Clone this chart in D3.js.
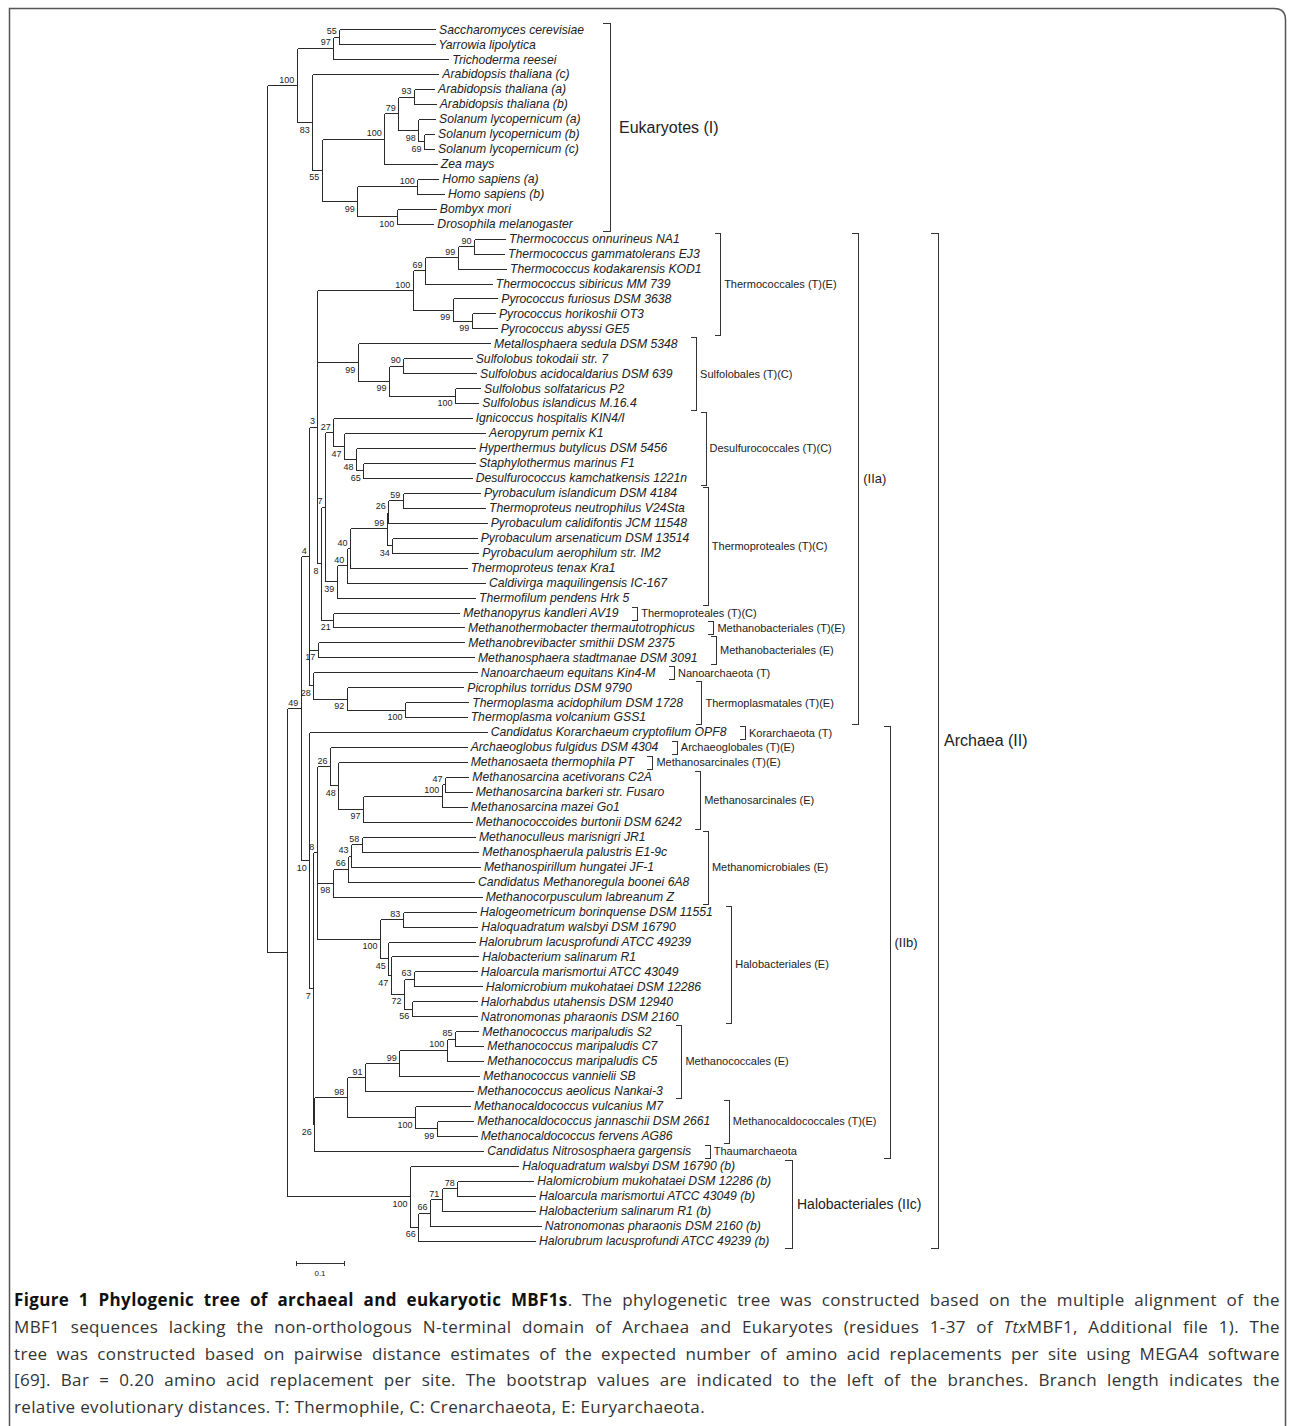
<!DOCTYPE html>
<html>
<head>
<meta charset="utf-8">
<script src="https://cdn.jsdelivr.net/npm/d3@7"></script>
<style>
  body { margin: 0; background: #fff; }
  svg text { font-family: "Liberation Sans", Arial, sans-serif; fill: #222; }
  svg .caption text { font-family: "Open Sans", sans-serif; fill: #333; }
</style>
</head>
<body>
<div id="chart"></div>
<script>
// Tree in Newick form: branch lengths in substitutions per site, internal labels = bootstrap
const treeNewick = [
  "(",
  // Eukaryotes
  "((('Saccharomyces cerevisiae':0.1994,'Yarrowia lipolytica':0.1983)55:0.0125,'Trichoderma reesei':0.2396)97:0.0763,",
  "('Arabidopsis thaliana (c)':0.2625,(((('Arabidopsis thaliana (a)':0.0417,'Arabidopsis thaliana (b)':0.0452)93:0.0327,",
  "('Solanum lycopernicum (a)':0.0348,('Solanum lycopernicum (b)':0.0208,'Solanum lycopernicum (c)':0.0208)69:0.0119)98:0.0417)79:0.0292,",
  "'Zea mays':0.1092)100:0.1304,(('Homo sapiens (a)':0.0438,'Homo sapiens (b)':0.0556)100:0.125,",
  "('Bombyx mori':0.0813,'Drosophila melanogaster':0.0763)100:0.0821)99:0.0742)55:0.0196)83:0.0325)100:0.0619,",
  // Archaea
  "(((",
  // node 4 -> node 3
  "(",
  "(((('Thermococcus onnurineus NA1':0.0646,'Thermococcus gammatolerans EJ3':0.0625)90:0.034,'Thermococcus kodakarensis KOD1':0.1006)99:0.0681,",
  "'Thermococcus sibiricus MM 739':0.139)69:0.0256,('Pyrococcus furiosus DSM 3638':0.0929,('Pyrococcus horikoshii OT3':0.0485,'Pyrococcus abyssi GE5':0.0521)99:0.0396)99:0.0833)100:0.1983,",
  "('Metallosphaera sedula DSM 5348':0.2756,(('Sulfolobus tokodaii str. 7':0.1425,'Sulfolobus acidocaldarius DSM 639':0.1515)90:0.0298,",
  "('Sulfolobus solfataricus P2':0.0521,'Sulfolobus islandicus M.16.4':0.0485)100:0.1375)99:0.0652)99:0.0838,",
  "((('Ignicoccus hospitalis KIN4/I':0.2883,('Aeropyrum pernix K1':0.2938,('Hyperthermus butylicus DSM 5456':0.2479,",
  "('Staphylothermus marinus F1':0.2327,'Desulfurococcus kamchatkensis 1221n':0.2258)65:0.0152)48:0.025)47:0.0223)27:0.0173,",
  "(((((('Pyrobaculum islandicum DSM 4184':0.161,'Thermoproteus neutrophilus V24Sta':0.1715)59:0.03,'Pyrobaculum calidifontis JCM 11548':0.205)26:0.0033,",
  "('Pyrobaculum arsenaticum DSM 13514':0.1758,'Pyrobaculum aerophilum str. IM2':0.1792)34:0.0117)99:0.0765,'Thermoproteus tenax Kra1':0.2431)40:0.0069,",
  "'Caldivirga maquilingensis IC-167':0.2881)40:0.0208,'Thermofilum pendens Hrk 5':0.2881)39:0.0244)7:0.0083,",
  "('Methanopyrus kandleri AV19':0.2625,'Methanothermobacter thermautotrophicus':0.2723)21:0.0256)8:0.0073",
  ")3:0.0171,",
  "('Methanobrevibacter smithii DSM 2375':0.3054,'Methanosphaera stadtmanae DSM 3091':0.3256)17:0.0175,",
  "('Nanoarchaeum equitans Kin4-M':0.3404,('Picrophilus torridus DSM 9790':0.2429,('Thermoplasma acidophilum DSM 1728':0.1319,'Thermoplasma volcanium GSS1':0.1285)100:0.1215)92:0.0696)28:0.0083",
  ")4:0.0179,",
  // node 10
  "('Candidatus Korarchaeum cryptofilum OPF8':0.3696,(",
  "(('Archaeoglobus fulgidus DSM 4304':0.2848,('Methanosaeta thermophila PT':0.2675,((('Methanosarcina acetivorans C2A':0.0485,'Methanosarcina barkeri str. Fusaro':0.0556)47:0.0069,",
  "'Methanosarcina mazei Go1':0.0521)100:0.164,'Methanococcoides burtonii DSM 6242':0.2265)97:0.0515)48:0.0173)26:0.0277,",
  "(((('Methanoculleus marisnigri JR1':0.236,'Methanosphaerula palustris E1-9c':0.2429)58:0.0223,'Methanospirillum hungatei JF-1':0.2688)43:0.0056,",
  "'Candidatus Methanoregula boonei 6A8':0.2619)66:0.0325,'Methanocorpusculum labreanum Z':0.3104)98:0.0333,",
  "(('Halogeometricum borinquense DSM 11551':0.1527,'Haloquadratum walsbyi DSM 16790':0.1554)83:0.0473,('Halorubrum lacusprofundi ATCC 49239':0.1806,",
  "('Halobacterium salinarum R1':0.1825,(('Haloarcula marismortui ATCC 43049':0.1306,'Halomicrobium mukohataei DSM 12286':0.141)63:0.0208,",
  "('Halorhabdus utahensis DSM 12940':0.1354,'Natronomonas pharaonis DSM 2160':0.1354)56:0.016)72:0.0277)47:0.005)45:0.0173)100:0.1319)8:0.0071,",
  "(((((('Methanococcus maripaludis S2':0.0485,'Methanococcus maripaludis C7':0.059)85:0.0173,'Methanococcus maripaludis C5':0.0763)100:0.0988,",
  "'Methanococcus vannielii SB':0.1667)99:0.0715,'Methanococcus aeolicus Nankai-3':0.2256)91:0.0381,('Methanocaldococcus vulcanius M7':0.1146,",
  "('Methanocaldococcus jannaschii DSM 2661':0.0763,'Methanocaldococcus fervens AG86':0.0833)99:0.0452)100:0.1423)98:0.0675,",
  "'Candidatus Nitrososphaera gargensis':0.3521)26:0.0021",
  ")7:0.0083)10:0.0179",
  ")49:0.0279,",
  // Halobacteriales IIc
  "('Haloquadratum walsbyi DSM 16790 (b)':0.2256,(((('Halomicrobium mukohataei DSM 12286 (b)':0.1583,'Haloarcula marismortui ATCC 43049 (b)':0.1619)78:0.0325,",
  "'Halobacterium salinarum R1 (b)':0.1944)71:0.0244,'Natronomonas pharaonis DSM 2160 (b)':0.2306)66:0.0244,'Halorubrum lacusprofundi ATCC 49239 (b)':0.2431)66:0.0173)100:0.2556",
  "):0.0423",
  ");"
].join("");

// order-level brackets: label, first leaf, last leaf
const orderGroups = [
  ["Thermococcales (T)(E)", "Thermococcus onnurineus NA1", "Pyrococcus abyssi GE5"],
  ["Sulfolobales (T)(C)", "Metallosphaera sedula DSM 5348", "Sulfolobus islandicus M.16.4"],
  ["Desulfurococcales (T)(C)", "Ignicoccus hospitalis KIN4/I", "Desulfurococcus kamchatkensis 1221n"],
  ["Thermoproteales (T)(C)", "Pyrobaculum islandicum DSM 4184", "Thermofilum pendens Hrk 5"],
  ["Thermoproteales (T)(C)", "Methanopyrus kandleri AV19", "Methanopyrus kandleri AV19"],
  ["Methanobacteriales (T)(E)", "Methanothermobacter thermautotrophicus", "Methanothermobacter thermautotrophicus"],
  ["Methanobacteriales (E)", "Methanobrevibacter smithii DSM 2375", "Methanosphaera stadtmanae DSM 3091"],
  ["Nanoarchaeota (T)", "Nanoarchaeum equitans Kin4-M", "Nanoarchaeum equitans Kin4-M"],
  ["Thermoplasmatales (T)(E)", "Picrophilus torridus DSM 9790", "Thermoplasma volcanium GSS1"],
  ["Korarchaeota (T)", "Candidatus Korarchaeum cryptofilum OPF8", "Candidatus Korarchaeum cryptofilum OPF8"],
  ["Archaeoglobales (T)(E)", "Archaeoglobus fulgidus DSM 4304", "Archaeoglobus fulgidus DSM 4304"],
  ["Methanosarcinales (T)(E)", "Methanosaeta thermophila PT", "Methanosaeta thermophila PT"],
  ["Methanosarcinales (E)", "Methanosarcina acetivorans C2A", "Methanococcoides burtonii DSM 6242"],
  ["Methanomicrobiales (E)", "Methanoculleus marisnigri JR1", "Methanocorpusculum labreanum Z"],
  ["Halobacteriales (E)", "Halogeometricum borinquense DSM 11551", "Natronomonas pharaonis DSM 2160"],
  ["Methanococcales (E)", "Methanococcus maripaludis S2", "Methanococcus aeolicus Nankai-3"],
  ["Methanocaldococcales (T)(E)", "Methanocaldococcus vulcanius M7", "Methanocaldococcus fervens AG86"],
  ["Thaumarchaeota", "Candidatus Nitrososphaera gargensis", "Candidatus Nitrososphaera gargensis"]
];
const majorGroups = [
  ["Eukaryotes (I)", "Saccharomyces cerevisiae", "Drosophila melanogaster"],
  ["Halobacteriales (IIc)", "Haloquadratum walsbyi DSM 16790 (b)", "Halorubrum lacusprofundi ATCC 49239 (b)"]
];
const subGroups = [
  ["(IIa)", "Thermococcus onnurineus NA1", "Thermoplasma volcanium GSS1"],
  ["(IIb)", "Candidatus Korarchaeum cryptofilum OPF8", "Candidatus Nitrososphaera gargensis"]
];
const domainGroups = [
  ["Archaea (II)", "Thermococcus onnurineus NA1", "Halorubrum lacusprofundi ATCC 49239 (b)"]
];
const scaleBarValue = 0.1;

const captionLines = [
  [["Figure 1 Phylogenic tree of archaeal and eukaryotic MBF1s", "b"], [". The phylogenetic tree was constructed based on the multiple alignment of the", ""]],
  [["MBF1 sequences lacking the non-orthologous N-terminal domain of Archaea and Eukaryotes (residues 1-37 of ", ""], ["Ttx", "i"], ["MBF1, Additional file 1). The", ""]],
  [["tree was constructed based on pairwise distance estimates of the expected number of amino acid replacements per site using MEGA4 software", ""]],
  [["[69]. Bar = 0.20 amino acid replacement per site. The bootstrap values are indicated to the left of the branches. Branch length indicates the", ""]],
  [["relative evolutionary distances. T: Thermophile, C: Crenarchaeota, E: Euryarchaeota.", ""]]
];

// layout
const W = 1293, H = 1426;
const majorGap = { "Eukaryotes (I)": 26, "Halobacteriales (IIc)": 21 };
const majorPad = { "Eukaryotes (I)": 9, "Halobacteriales (IIc)": 5 };
const majorSize = { "Eukaryotes (I)": 16, "Halobacteriales (IIc)": 14 };

function parseNewick(s) {
  let i = 0;
  const ws = () => { while (i < s.length && /\s/.test(s[i])) i++; };
  function label() {
    ws();
    if (s[i] === "'") {
      const j = s.indexOf("'", i + 1);
      const t = s.slice(i + 1, j);
      i = j + 1;
      return t;
    }
    let t = "";
    while (i < s.length && !",():;".includes(s[i])) t += s[i++];
    return t.trim();
  }
  function node() {
    ws();
    const n = {};
    if (s[i] === "(") {
      i++;
      n.children = [node()];
      ws();
      while (s[i] === ",") { i++; n.children.push(node()); ws(); }
      i++; // closing paren
    }
    n.name = label();
    ws();
    if (s[i] === ":") {
      i++;
      let t = "";
      while (i < s.length && !",();".includes(s[i])) t += s[i++];
      n.length = +t;
    }
    return n;
  }
  return node();
}

const root = d3.hierarchy(parseNewick(treeNewick));
root.eachBefore(d => { d.dist = d.parent ? d.parent.dist + (d.data.length || 0) : 0; });
const leaves = root.leaves();
const leafIndex = new Map(leaves.map((l, i) => [l.data.name, i]));

const x = d3.scaleLinear().domain([0, scaleBarValue]).range([267, 315]);
const y = d3.scaleLinear().domain([0, leaves.length - 1]).range([29.3, 1240.6]);

leaves.forEach((l, i) => { l.y = y(i); });
root.eachAfter(d => {
  if (d.children) d.y = (d.children[0].y + d.children[d.children.length - 1].y) / 2;
});

const svg = d3.select("#chart").append("svg")
  .attr("width", W)
  .attr("height", H);

const px = v => Math.round(v) + 0.5;

// frame
svg.append("path")
  .attr("d", `M9.5,${H + 2}V8.5H1274Q1285.5,8.5 1285.5,20V${H + 2}`)
  .attr("fill", "none")
  .attr("stroke", "#555")
  .attr("stroke-width", 1.5);

const tree = svg.append("g");

// horizontal branches
tree.selectAll("path.branch")
  .data(root.descendants().filter(d => d.parent))
  .join("path")
  .attr("class", "branch")
  .attr("d", d => `M${px(x(d.parent.dist))},${px(d.y)}H${px(x(d.dist))}`)
  .attr("fill", "none")
  .attr("stroke", "#2a2a2a")
  .attr("stroke-width", 1)
  .attr("shape-rendering", "crispEdges");

// vertical connectors
tree.selectAll("path.vert")
  .data(root.descendants().filter(d => d.children))
  .join("path")
  .attr("class", "vert")
  .attr("d", d => `M${px(x(d.dist))},${px(d.children[0].y)}V${px(d.children[d.children.length - 1].y)}`)
  .attr("fill", "none")
  .attr("stroke", "#2a2a2a")
  .attr("stroke-width", 1)
  .attr("shape-rendering", "crispEdges");

// leaf labels
const leafEnd = new Map();
tree.selectAll("text.leaf")
  .data(leaves)
  .join("text")
  .attr("class", "leaf")
  .attr("x", d => x(d.dist) + 4)
  .attr("y", d => d.y + 4.3)
  .attr("font-size", 12.2)
  .attr("font-style", "italic")
  .text(d => d.data.name)
  .each(function(d) { leafEnd.set(d.data.name, x(d.dist) + 4 + this.getComputedTextLength()); });

// bootstrap values
tree.selectAll("text.boot")
  .data(root.descendants().filter(d => d.children && d.data.name))
  .join("text")
  .attr("class", "boot")
  .attr("x", d => x(d.dist) - 2.5)
  .attr("y", d => d.parent.children[0] === d ? d.y - 2.5 : d.y + 10.5)
  .attr("text-anchor", "end")
  .attr("font-size", 9)
  .text(d => d.data.name);

// brackets
const ann = svg.append("g");
function bracket(bx, y0, y1, tick) {
  ann.append("path")
    .attr("d", `M${px(bx - tick)},${px(y0)}H${px(bx)}V${px(y1)}H${px(bx - tick)}`)
    .attr("fill", "none")
    .attr("stroke", "#333")
    .attr("stroke-width", 1)
    .attr("shape-rendering", "crispEdges");
}
function groupLabel(tx, ty, text, size) {
  const t = ann.append("text")
    .attr("x", tx)
    .attr("y", ty)
    .attr("dy", "0.35em")
    .attr("font-size", size)
    .text(text);
  return tx + t.node().getComputedTextLength();
}
function rangeOf(first, last) {
  return [leafIndex.get(first), leafIndex.get(last)];
}

const labelEnds = [];
orderGroups.forEach(([name, first, last]) => {
  const [a, b] = rangeOf(first, last);
  const bx = d3.max(leaves.slice(a, b + 1), l => leafEnd.get(l.data.name)) + 18.5;
  const y0 = leaves[a].y - 6, y1 = leaves[b].y + 7;
  bracket(bx, y0, y1, 6);
  labelEnds.push({ a, b, end: groupLabel(bx + 4, (y0 + y1) / 2, name, 11) });
});

majorGroups.forEach(([name, first, last]) => {
  const [a, b] = rangeOf(first, last);
  const bx = d3.max(leaves.slice(a, b + 1), l => leafEnd.get(l.data.name)) + majorGap[name];
  const y0 = leaves[a].y - 6, y1 = leaves[b].y + 7;
  bracket(bx, y0, y1, 8);
  labelEnds.push({ a, b, end: groupLabel(bx + majorPad[name], (y0 + y1) / 2, name, majorSize[name]) });
});

const subEnds = [];
subGroups.forEach(([name, first, last]) => {
  const [a, b] = rangeOf(first, last);
  const inner = labelEnds.filter(g => g.a >= a && g.b <= b);
  const bx = d3.max(inner, g => g.end) + 13;
  const y0 = leaves[a].y - 6, y1 = leaves[b].y + 7;
  bracket(bx, y0, y1, 7);
  subEnds.push({ a, b, end: groupLabel(bx + 5, (y0 + y1) / 2, name, 13) });
});

domainGroups.forEach(([name, first, last]) => {
  const [a, b] = rangeOf(first, last);
  const inner = subEnds.concat(labelEnds).filter(g => g.a >= a && g.b <= b);
  const bx = d3.max(inner, g => g.end) + 16.5;
  const y0 = leaves[a].y - 6, y1 = leaves[b].y + 7;
  bracket(bx, y0, y1, 8);
  groupLabel(bx + 6, (y0 + y1) / 2, name, 16);
});

// scale bar
const sb = svg.append("g").attr("transform", "translate(296,1263)");
const sbLen = x(scaleBarValue) - x(0);
sb.append("path")
  .attr("d", `M0.5,-2.5V2.5M0.5,0.5H${px(sbLen)}M${px(sbLen)},-2.5V2.5`)
  .attr("fill", "none")
  .attr("stroke", "#333")
  .attr("shape-rendering", "crispEdges");
sb.append("text")
  .attr("x", sbLen / 2)
  .attr("y", 13)
  .attr("text-anchor", "middle")
  .attr("font-size", 8)
  .text(scaleBarValue);

// caption (justified, last line ragged)
const cap = svg.append("g").attr("class", "caption");
const capLeft = 14, capRight = 1280;
captionLines.forEach((segs, i) => {
  const t = cap.append("text")
    .attr("x", capLeft)
    .attr("y", 1306 + i * 26.8)
    .attr("font-size", 17)
    .attr("letter-spacing", 0.35);
  segs.forEach(([s, style]) => {
    t.append("tspan")
      .attr("font-weight", style === "b" ? 700 : null)
      .attr("font-style", style === "i" ? "italic" : null)
      .attr("fill", style === "b" ? "#111" : null)
      .text(s);
  });
  if (i < captionLines.length - 1) {
    const natural = t.node().getComputedTextLength();
    const spaces = segs.map(s => s[0]).join("").split(" ").length - 1;
    t.attr("word-spacing", (capRight - capLeft - natural) / spaces);
  }
});
</script>
</body>
</html>
